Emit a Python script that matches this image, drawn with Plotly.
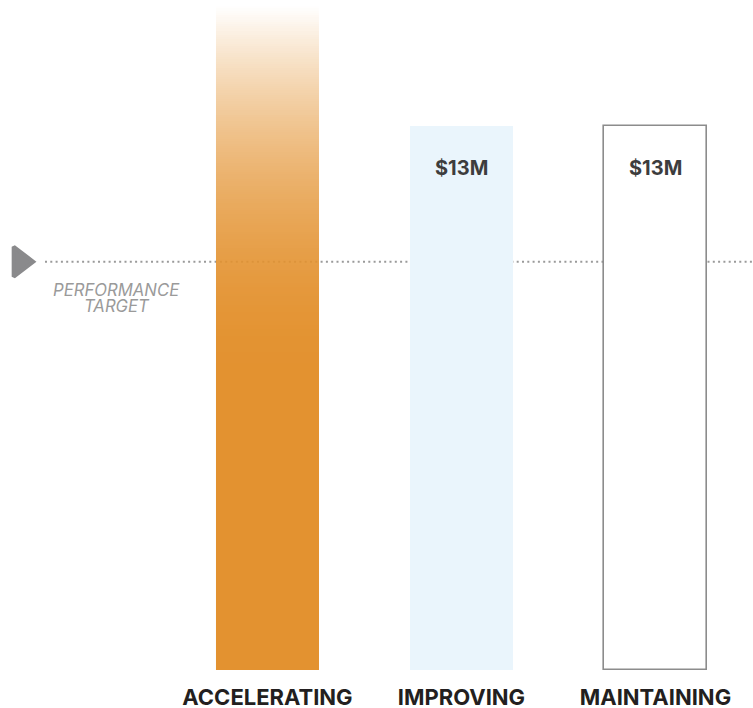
import numpy as np
import plotly.graph_objects as go

# chart data
categories = ["ACCELERATING", "IMPROVING", "MAINTAINING"]
values = [15.85, 13, 13]  # $M
value_labels = ["", "$13M", "$13M"]
target_value = 9.75
target_lines = ["PERFORMANCE", "TARGET"]

ORANGE = (227, 146, 48)
FONT = "Inter"
BAR_W = 0.531
FADE_FROM = 6.93  # orange is solid below this value, fades out above it

x_pos = list(range(len(categories)))

fig = go.Figure()

# dotted target line sits under the bars
fig.add_shape(
    type="line",
    xref="x",
    yref="y",
    x0=-1.147,
    x1=2.51,
    y0=target_value,
    y1=target_value,
    line=dict(color="#9a9a9a", width=2, dash="2px,3.3px"),
    layer="below",
)

# orange bar drawn as a vertical gradient (solid at the bottom, fading at the top)
n_rows = 300
y_edges = np.linspace(0, values[0], n_rows + 1)
y_mid = (y_edges[:-1] + y_edges[1:]) / 2
t = np.clip((values[0] - y_mid) / (values[0] - FADE_FROM), 0, 1)
alpha = 1 - (1 - t) ** 2
fig.add_trace(
    go.Heatmap(
        x=[x_pos[0] - BAR_W / 2, x_pos[0] + BAR_W / 2],
        y=y_edges,
        z=alpha.reshape(-1, 1),
        zmin=0,
        zmax=1,
        colorscale=[
            [0, "rgba(%d,%d,%d,0)" % ORANGE],
            [1, "rgba(%d,%d,%d,1)" % ORANGE],
        ],
        showscale=False,
        hoverinfo="skip",
    )
)

fig.add_trace(
    go.Bar(
        x=x_pos,
        y=values,
        width=BAR_W,
        marker=dict(
            color=["rgba(0,0,0,0)", "#eaf5fc", "#ffffff"],
            line=dict(color=["rgba(0,0,0,0)", "rgba(0,0,0,0)", "#8c8c8c"], width=[0, 0, 1.6]),
        ),
        hoverinfo="skip",
    )
)

# target marker
fig.add_trace(
    go.Scatter(
        x=[-1.275],
        y=[target_value],
        mode="markers",
        marker=dict(symbol="triangle-right", size=26, color="#8a8a8c",
                    line=dict(color="#8a8a8c", width=4)),
        hoverinfo="skip",
    )
)

# value labels inside the bars
for x, v, lab in zip(x_pos, values, value_labels):
    if lab:
        fig.add_annotation(
            x=x, y=v, text=f"<b>{lab}</b>", showarrow=False, yshift=-42,
            font=dict(family=FONT, size=20, color="#3d3d3d"),
        )

# target caption, two lines set tighter than plotly's <br> spacing
for i, line in enumerate(target_lines):
    fig.add_annotation(
        x=-0.776, y=target_value, text=f"<i>{line}</i>", showarrow=False,
        yshift=-28 - 16.5 * i, height=16,
        font=dict(family=FONT, size=16.7, color="#9a9a9a"),
    )

fig.update_layout(
    width=753,
    height=708,
    margin=dict(l=0, r=0, t=0, b=38),
    paper_bgcolor="white",
    plot_bgcolor="white",
    showlegend=False,
    bargap=0,
    font=dict(family=FONT),
)
fig.update_xaxes(
    range=[-1.379, 2.503],
    tickvals=x_pos,
    ticktext=[f"<b>{c}</b>" for c in categories],
    tickfont=dict(family=FONT, size=22, color="#231f20"),
    showgrid=False,
    zeroline=False,
    showline=False,
    ticks="outside",
    ticklen=8,
    tickcolor="rgba(0,0,0,0)",
    automargin=False,
)
fig.update_yaxes(range=[0, 16], visible=False, automargin=False)

# drop the default body margin so the figure fills the window exactly
fig.write_html(
    "out.html",
    config={"displayModeBar": False},
    post_script="document.body.style.margin='0';",
)
